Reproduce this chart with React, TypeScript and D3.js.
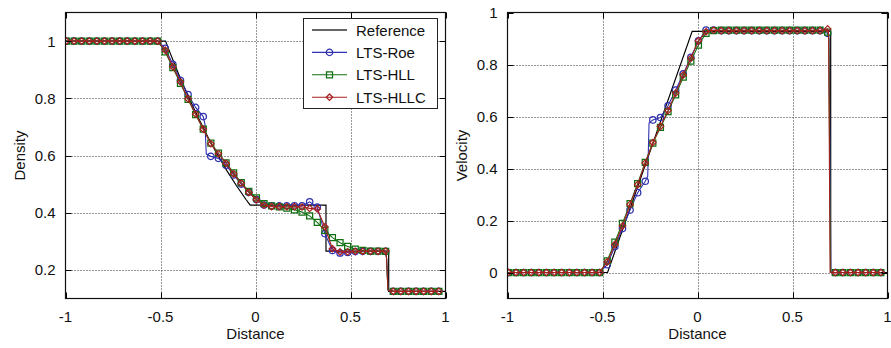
import * as d3 from 'd3';

// marker positions (cell centres every 8th cell)
const xs = [
  -0.995, -0.955, -0.915, -0.875, -0.835, -0.795, -0.755, -0.715, -0.675, -0.635,
  -0.595, -0.555, -0.515, -0.475, -0.435, -0.395, -0.355, -0.315, -0.275, -0.235,
  -0.195, -0.155, -0.115, -0.075, -0.035, 0.005, 0.045, 0.085, 0.125, 0.165,
  0.205, 0.245, 0.285, 0.325, 0.365, 0.405, 0.445, 0.485, 0.525, 0.565,
  0.605, 0.645, 0.685, 0.725, 0.765, 0.805, 0.845, 0.885, 0.925, 0.965,
];

// exact solution
const refDensityX = [-1, -0.4733, -0.45, -0.4, -0.35, -0.3, -0.25, -0.2, -0.15, -0.1, -0.05, -0.0281, 0.371, 0.371, 0.701, 0.701, 1];
const refDensityY = [1, 1, 0.9597, 0.8774, 0.801, 0.73, 0.664, 0.603, 0.5464, 0.4943, 0.4461, 0.4263, 0.4263, 0.2656, 0.2656, 0.125, 0.125];
const refVelocityX = [-1, -0.4733, -0.0281, 0.701, 0.701, 1];
const refVelocityY = [0, 0, 0.9275, 0.9275, 0, 0];

const roeDensity = [
  1, 1, 1, 1, 1, 1, 1, 1, 1, 1, 1, 1, 1,
  0.975, 0.919, 0.863, 0.813, 0.768, 0.736, 0.597, 0.59, 0.566, 0.532, 0.5, 0.471, 0.446, 0.427,
  0.424, 0.424, 0.424, 0.424, 0.424, 0.438, 0.42, 0.327, 0.268, 0.259, 0.261, 0.264, 0.265,
  0.265, 0.265, 0.265,
  0.125, 0.125, 0.125, 0.125, 0.125, 0.125, 0.125,
];
const hllDensity = [
  1, 1, 1, 1, 1, 1, 1, 1, 1, 1, 1, 1, 1,
  0.962, 0.907, 0.852, 0.796, 0.743, 0.692, 0.643, 0.608, 0.574, 0.539, 0.505, 0.475, 0.452, 0.432,
  0.424, 0.42, 0.416, 0.41, 0.402, 0.389, 0.366, 0.338, 0.313, 0.295, 0.282, 0.273, 0.268,
  0.266, 0.266, 0.265,
  0.125, 0.125, 0.125, 0.125, 0.125, 0.125, 0.125,
];
const hllcDensity = [
  1, 1, 1, 1, 1, 1, 1, 1, 1, 1, 1, 1, 1,
  0.968, 0.91, 0.857, 0.798, 0.745, 0.692, 0.641, 0.606, 0.573, 0.536, 0.503, 0.471, 0.445, 0.426,
  0.421, 0.421, 0.421, 0.421, 0.42, 0.415, 0.413, 0.351, 0.274, 0.263, 0.263, 0.265, 0.265,
  0.265, 0.265, 0.266,
  0.125, 0.125, 0.125, 0.125, 0.125, 0.125, 0.125,
];

const roeVelocity = [
  0, 0, 0, 0, 0, 0, 0, 0, 0, 0, 0, 0, 0,
  0.03, 0.1, 0.169, 0.24, 0.307, 0.351, 0.587, 0.596, 0.641, 0.702, 0.764, 0.828, 0.891, 0.932,
  0.932, 0.93, 0.93, 0.93, 0.93, 0.93, 0.93, 0.93, 0.93, 0.93, 0.93, 0.93, 0.93, 0.93, 0.93,
  0.92,
  0, 0, 0, 0, 0, 0, 0,
];
const hllVelocity = [
  0, 0, 0, 0, 0, 0, 0, 0, 0, 0, 0, 0, 0,
  0.045, 0.117, 0.189, 0.265, 0.342, 0.424, 0.498, 0.558, 0.619, 0.683, 0.751, 0.813, 0.875, 0.92,
  0.93, 0.932, 0.932, 0.932, 0.932, 0.932, 0.932, 0.932, 0.932, 0.932, 0.932, 0.932, 0.932, 0.932, 0.932,
  0.925,
  0, 0, 0, 0, 0, 0, 0,
];
const hllcVelocity = [
  0, 0, 0, 0, 0, 0, 0, 0, 0, 0, 0, 0, 0,
  0.041, 0.108, 0.179, 0.262, 0.338, 0.421, 0.5, 0.562, 0.623, 0.69, 0.76, 0.824, 0.891, 0.926,
  0.932, 0.93, 0.93, 0.93, 0.93, 0.93, 0.93, 0.93, 0.93, 0.93, 0.93, 0.93, 0.93, 0.93, 0.93,
  0.937,
  0, 0, 0, 0, 0, 0, 0,
];

// extra line vertices between markers (sharp jumps)
const roeDensityKinks = [[-0.266, 0.71], [-0.259, 0.605], [0.69, 0.24], [0.697, 0.13]];
const hllDensityKinks = [[0.69, 0.24], [0.697, 0.13]];
const hllcDensityKinks = [[0.69, 0.24], [0.697, 0.13]];
const roeVelocityKinks = [[-0.262, 0.37], [-0.255, 0.575], [0.692, 0.9], [0.702, 0]];
const hllVelocityKinks = [[0.691, 0.9], [0.7, 0]];
const hllcVelocityKinks = [[0.69, 0.92], [0.698, 0]];

const xTicks = [-1, -0.5, 0, 0.5, 1];
const densityTicks = [0.2, 0.4, 0.6, 0.8, 1];
const velocityTicks = [0, 0.2, 0.4, 0.6, 0.8, 1];

const names = ['Reference', 'LTS-Roe', 'LTS-HLL', 'LTS-HLLC'];
const colors = ['#000000', '#3030b0', '#107010', '#a82020'];

const FONT = '"Liberation Sans", Arial, Helvetica, sans-serif';

function markerPath(kind, cx, cy) {
  if (kind === 'circle') return `M${cx - 3.2},${cy}a3.2,3.2 0 1,0 6.4,0a3.2,3.2 0 1,0 -6.4,0`;
  if (kind === 'square') return `M${cx - 3},${cy - 3}h6v6h-6z`;
  return `M${cx},${cy - 3.2}L${cx + 3.2},${cy}L${cx},${cy + 3.2}L${cx - 3.2},${cy}z`;
}

function Panel({ left, right, top, bottom, yDomain, yTicks, yLabel, labelX, refData, series, legend, id }) {
  const x = d3.scaleLinear().domain([-1, 1]).range([left, right]);
  const y = d3.scaleLinear().domain(yDomain).range([bottom, top]);
  const line = d3.line().x(d => x(d[0])).y(d => y(d[1]));
  const refPts = refData[0].map((v, i) => [v, refData[1][i]]);
  const fmt = v => String(v);
  const px = v => Math.round(v) + 0.5;

  return (
    <g>
      <defs>
        <clipPath id={id}>
          <rect x={left} y={top} width={right - left} height={bottom - top} />
        </clipPath>
      </defs>
      {/* grid */}
      <g stroke="#000" strokeWidth={1} strokeDasharray="1,2" opacity={0.8}>
        {xTicks.filter(t => t > -1 && t < 1).map(t => (
          <line key={'gx' + t} x1={px(x(t))} x2={px(x(t))} y1={top} y2={bottom} />
        ))}
        {yTicks.filter(t => y(t) > top + 1 && y(t) < bottom - 1).map(t => (
          <line key={'gy' + t} x1={left} x2={right} y1={px(y(t))} y2={px(y(t))} />
        ))}
      </g>
      <g clipPath={`url(#${id})`}>
        <path d={line(refPts)} fill="none" stroke={colors[0]} strokeWidth={1.2} />
        {series.map(s => {
          const pts = xs.map((v, i) => [v, s.values[i]]).concat(s.kinks).sort((a, b) => a[0] - b[0]);
          return (
            <g key={s.name}>
              <path d={line(pts)} fill="none" stroke={s.color} strokeWidth={1.1} />
              {xs.map((v, i) => (
                <path key={i} d={markerPath(s.marker, x(v), y(s.values[i]))} fill="none" stroke={s.color} strokeWidth={1.25} />
              ))}
            </g>
          );
        })}
      </g>
      {/* ticks, mirrored */}
      <g stroke="#000" strokeWidth={1}>
        {xTicks.map(t => (
          <g key={'tx' + t}>
            <line x1={px(x(t))} x2={px(x(t))} y1={bottom} y2={bottom - 6} />
            <line x1={px(x(t))} x2={px(x(t))} y1={top} y2={top + 6} />
          </g>
        ))}
        {yTicks.map(t => (
          <g key={'ty' + t}>
            <line x1={left} x2={left + 6} y1={px(y(t))} y2={px(y(t))} />
            <line x1={right} x2={right - 6} y1={px(y(t))} y2={px(y(t))} />
          </g>
        ))}
      </g>
      <rect x={left} y={top} width={right - left} height={bottom - top} fill="none" stroke="#111" strokeWidth={1.2} />
      <g fontFamily={FONT} fontSize={15} fill="#111">
        {xTicks.map(t => (
          <text key={'lx' + t} x={x(t)} y={bottom + 23} textAnchor="middle">{fmt(t)}</text>
        ))}
        {yTicks.map(t => (
          <text key={'ly' + t} x={left - 10} y={y(t) + 5.5} textAnchor="end">{fmt(t)}</text>
        ))}
        <text x={(left + right) / 2} y={bottom + 40} textAnchor="middle">Distance</text>
        <text transform={`translate(${labelX},${(top + bottom) / 2}) rotate(-90)`} textAnchor="middle">{yLabel}</text>
      </g>
      {legend && (
        <g fontFamily={FONT} fontSize={15} fill="#111">
          <rect x={303.5} y={18.5} width={134} height={90} fill="#fff" stroke="#222" strokeWidth={1} />
          {names.map((n, i) => {
            const ly = 30 + i * 22.4;
            const s = series[i - 1];
            return (
              <g key={n}>
                <line x1={312} x2={347} y1={ly} y2={ly} stroke={i === 0 ? '#666' : colors[i]} strokeWidth={i === 0 ? 2 : 1.1} />
                {s && <path d={markerPath(s.marker, 329.5, ly)} fill="none" stroke={s.color} strokeWidth={1.25} />}
                <text x={356} y={ly + 5.5}>{n}</text>
              </g>
            );
          })}
        </g>
      )}
    </g>
  );
}

export default function App() {
  const densitySeries = [
    { name: names[1], color: colors[1], marker: 'circle', values: roeDensity, kinks: roeDensityKinks },
    { name: names[2], color: colors[2], marker: 'square', values: hllDensity, kinks: hllDensityKinks },
    { name: names[3], color: colors[3], marker: 'diamond', values: hllcDensity, kinks: hllcDensityKinks },
  ];
  const velocitySeries = [
    { name: names[1], color: colors[1], marker: 'circle', values: roeVelocity, kinks: roeVelocityKinks },
    { name: names[2], color: colors[2], marker: 'square', values: hllVelocity, kinks: hllVelocityKinks },
    { name: names[3], color: colors[3], marker: 'diamond', values: hllcVelocity, kinks: hllcVelocityKinks },
  ];
  return (
    <svg width={891} height={348} style={{ position: 'absolute', left: 0, top: 0, background: '#fff' }}>
      <Panel id="c1" left={65.5} right={445.5} top={12.5} bottom={298.5} yDomain={[0.1, 1.1]}
        yTicks={densityTicks} yLabel="Density" labelX={25} refData={[refDensityX, refDensityY]}
        series={densitySeries} legend />
      <Panel id="c2" left={507.5} right={887.5} top={12.5} bottom={298.5} yDomain={[-0.1, 1]}
        yTicks={velocityTicks} yLabel="Velocity" labelX={467} refData={[refVelocityX, refVelocityY]}
        series={velocitySeries} legend={false} />
    </svg>
  );
}
